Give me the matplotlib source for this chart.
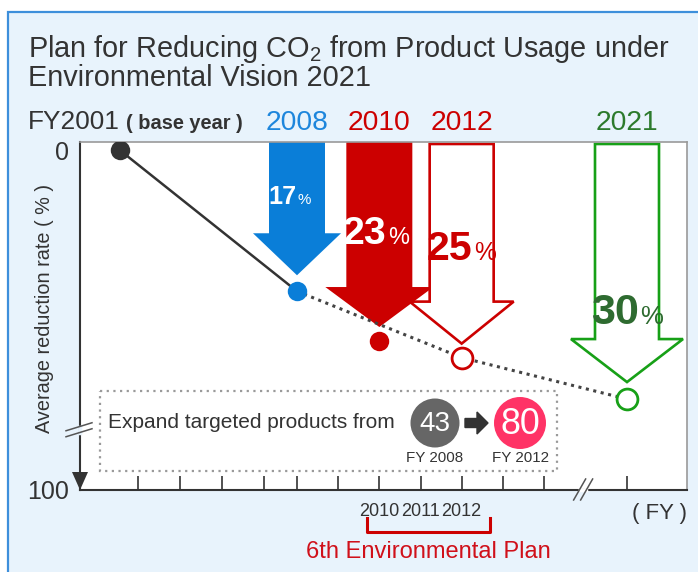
import numpy as np
import matplotlib
matplotlib.use('Agg')
import matplotlib.pyplot as plt
import matplotlib.transforms as mtransforms
from matplotlib.patches import Polygon, Rectangle, Circle, FancyArrow
from matplotlib.lines import Line2D
from matplotlib import font_manager

# ---------------- data ----------------
trend_years = [2001, 2008]          # achieved (solid line)
trend_rates = [0, 17]
plan_years = [2008, 2012, 2021]     # planned (dotted line)
plan_rates = [17, 25, 30]
point_years = [2001, 2008, 2010, 2012, 2021]
point_rates = [0, 17, 23, 25, 30]
arrow_years = [2008, 2010, 2012, 2021]
arrow_rates = [17, 23, 25, 30]
arrow_numbers = ['17', '23', '25', '30']
arrow_year_labels = ['2008', '2010', '2012', '2021']
tick_years = [2004, 2005, 2006, 2007, 2008, 2009, 2010, 2011, 2012, 2013, 2014, 2021]
labeled_ticks = ['2010', '2011', '2012']
y_ticks = [0, 100]
y_ticklabels = ['0', '100']
products_from = '43'
products_to = '80'
products_from_label = 'FY 2008'
products_to_label = 'FY 2012'
title_l1 = 'Plan for Reducing CO$_\\mathregular{2}$ from Product Usage under'
title_l2 = 'Environmental Vision 2021'

# ---------------- styles ----------------
BLUE = '#0A7ED8'
RED = '#CC0000'
GREEN = '#17A017'
DKGREEN = '#2E6B30'
TXT = '#333333'
BG = '#E8F3FC'

point_face = ['#333333', BLUE, RED, 'white', 'white']
point_edge = ['#333333', BLUE, RED, RED, GREEN]
arrow_face = [BLUE, RED, 'white', 'white']
arrow_edge = [BLUE, RED, RED, GREEN]
arrow_filled = [True, True, False, False]
arrow_shaft = [28, 33, 32, 32]     # half width px
arrow_head = [44, 54, 52, 56]      # half width px
arrow_hlen = [42, 40, 42, 43]      # px
arrow_gap = [16, 14, 14, 17]       # tip above point, px
year_label_colors = ['#1E86DC', RED, RED, '#2C7A2C']
num_colors = ['white', 'white', RED, DKGREEN]
num_dx = [-1, 7, 11, 12]
num_base = [204, 244, 260, 324]
num_width = [25, 39, 41, 43]

names = {f.name for f in font_manager.fontManager.ttflist}
REG = 'Liberation Sans' if 'Liberation Sans' in names else 'DejaVu Sans'
NARROW = 'Liberation Sans Narrow' if 'Liberation Sans Narrow' in names else REG
NUM_BOOST = 1.0 if NARROW != REG else 1.12
plt.rcParams['font.family'] = [REG, 'DejaVu Sans']
plt.rcParams['mathtext.fontset'] = 'custom'
plt.rcParams['mathtext.rm'] = REG

W, H = 698, 572
fig = plt.figure(figsize=(W / 100, H / 100), dpi=100, facecolor='white')
img = mtransforms.Affine2D().scale(1, -1).translate(0, H)
renderer = fig.canvas.get_renderer()

def fit(t, w, use_height=False):
    bb = t.get_window_extent(renderer)
    cur = bb.height if use_height else bb.width
    t.set_fontsize(t.get_fontsize() * w / cur)

# outer frame
fig.add_artist(Rectangle((8, 12), W, H, transform=img, facecolor=BG,
                         edgecolor='#3D8FDB', lw=1.6, zorder=0))

# broken (schematic) scales
XK_YR = [2000.0, 2001, 2004, 2007, 2008, 2014, 2021, 2022.4]
XK_PX = [80.0, 120, 138, 264, 297, 544, 627, 687]
YK_V = [-1.0, 33.7, 100]
YK_PX = [141.7, 429.7, 490]
fx = lambda v: np.interp(v, XK_YR, XK_PX)
ifx = lambda p: np.interp(p, XK_PX, XK_YR)
fy = lambda v: np.interp(v, YK_V, YK_PX)
ify = lambda p: np.interp(p, YK_PX, YK_V)

ax = fig.add_axes([80 / W, 1 - 490 / H, 607 / W, 348 / H])
ax.set_facecolor('white')
ax.set_xscale('function', functions=(fx, ifx))
ax.set_yscale('function', functions=(fy, ify))
ax.set_xlim(2000, 2022.4)
ax.set_ylim(100, -1)

for s in ['top', 'right']:
    ax.spines[s].set_color('#9A9A9A')
    ax.spines[s].set_linewidth(1.2)
for s in ['left', 'bottom']:
    ax.spines[s].set_color(TXT)
    ax.spines[s].set_linewidth(1.5)

ax.set_xticks(tick_years)
ax.set_xticklabels([str(y) if str(y) in labeled_ticks else '' for y in tick_years])
ax.tick_params(axis='x', direction='in', length=10, width=1.2, color=TXT,
               pad=9, labelsize=13, labelcolor=TXT)
ax.set_yticks(y_ticks)
ax.set_yticklabels(y_ticklabels)
ax.tick_params(axis='y', length=0, pad=8, labelsize=18, labelcolor=TXT)
ax.minorticks_off()
for lab in ax.get_xticklabels():
    lab.set_family(NARROW)
ax.get_yticklabels()[0].set_y(-1)

def to_img(x, y):
    d = ax.transData.transform((x, y))
    return d[0], H - d[1]

top_px = H - ax.transAxes.transform((0, 1))[1]

# block arrows
for i, (yr, rt) in enumerate(zip(arrow_years, arrow_rates)):
    px, py = to_img(yr, rt)
    tip = py - arrow_gap[i]
    sw, hw, hl = arrow_shaft[i], arrow_head[i], arrow_hlen[i]
    t0 = top_px if arrow_filled[i] else top_px + 2
    verts = [(px - sw, t0), (px + sw, t0), (px + sw, tip - hl), (px + hw, tip - hl),
             (px, tip), (px - hw, tip - hl), (px - sw, tip - hl)]
    ax.add_patch(Polygon(verts, closed=True, transform=img, facecolor=arrow_face[i],
                         edgecolor=arrow_edge[i], lw=0 if arrow_filled[i] else 1.9,
                         joinstyle='miter', zorder=2 + i * 0.1, clip_on=False))
    # percentage label
    n = ax.text(px + num_dx[i], num_base[i], arrow_numbers[i], transform=img,
                ha='right', va='baseline', fontsize=20, fontweight='bold',
                family=NARROW, color=num_colors[i], zorder=6)
    fit(n, num_width[i])
    n.set_fontsize(n.get_fontsize() * NUM_BOOST)
    ax.text(px + num_dx[i] + 1.5, num_base[i], '%', transform=img, ha='left',
            va='baseline', fontsize=n.get_fontsize() * 0.6, family=NARROW,
            color=num_colors[i], zorder=6)

# lines
ax.plot(trend_years, trend_rates, color=TXT, lw=1.8, zorder=3, solid_capstyle='round')
ax.plot(plan_years, plan_rates, color='#444444', lw=2.2, linestyle=(0, (1, 1.5)),
        zorder=3)
for i, (yr, rt) in enumerate(zip(point_years, point_rates)):
    filled = point_face[i] != 'white'
    ax.plot([yr], [rt], marker='o', linestyle='none',
            markersize=14 if filled else 15, markerfacecolor=point_face[i],
            markeredgecolor=point_edge[i], markeredgewidth=0 if filled else 2.0,
            zorder=4)

# year labels above the plot
yl = []
for i, yr in enumerate(arrow_years):
    px, _ = to_img(yr, arrow_rates[i])
    t = fig.text(px, 130, arrow_year_labels[i], transform=img, ha='center',
                 va='baseline', fontsize=20, color=year_label_colors[i])
    yl.append(t)
fit(yl[0], 63)
for t in yl[1:]:
    t.set_fontsize(yl[0].get_fontsize())

# titles
t1 = fig.text(28, 57, title_l1, transform=img, ha='left', va='baseline',
              fontsize=20, color=TXT)
fit(t1, 642)
fig.text(28, 86, title_l2, transform=img, ha='left', va='baseline',
         fontsize=t1.get_fontsize(), color=TXT)
fy01 = fig.text(28, 129, 'FY2001', transform=img, ha='left', va='baseline',
                fontsize=20, color=TXT)
fit(fy01, 92)
by = fig.text(126, 129, '( base year )', transform=img, ha='left', va='baseline',
              fontsize=13, color=TXT, family=NARROW, fontweight='bold')
fit(by, 116)

# y label
ylab = fig.text(45, 308, 'Average reduction rate ( % )', transform=img, rotation=90,
                ha='center', va='center', fontsize=14, color=TXT, family=NARROW)
fit(ylab, 250, use_height=True)

# axis end arrow
ax0 = H - ax.transAxes.transform((0, 0))[1]
axx = ax.transAxes.transform((0, 0))[0]
fig.add_artist(Polygon([(axx - 8, ax0 - 18), (axx + 8, ax0 - 18), (axx, ax0)],
                       closed=True, transform=img, facecolor=TXT, edgecolor='none',
                       zorder=5))

# breaks
_, byy = to_img(2000, 33.7)
fig.add_artist(Line2D([axx, axx], [byy - 3, byy + 3], transform=img, color=BG,
                      lw=2.5, zorder=5))
for off in (-3, 3):
    fig.add_artist(Line2D([axx - 14, axx + 12], [byy + 4 + off, byy - 4 + off],
                          transform=img, color='#555555', lw=1.1, zorder=6))
bxx, _ = to_img(2017.3, 100)
fig.add_artist(Line2D([bxx - 3, bxx + 3], [ax0, ax0], transform=img, color='white',
                      lw=2.5, zorder=5))
for off in (-3.5, 3.5):
    fig.add_artist(Line2D([bxx - 6 + off, bxx + 6 + off], [ax0 + 10, ax0 - 11],
                          transform=img, color='#555555', lw=1.1, zorder=6))

# ( FY )
fyt = fig.text(659, 513, '( FY )', transform=img, ha='center', va='center',
               fontsize=14, color=TXT, family=NARROW)
fit(fyt, 55)

# 6th plan bracket
bx0, _ = to_img(2009.7, 100)
bx1, _ = to_img(2012.7, 100)
fig.add_artist(Line2D([bx0, bx0, bx1, bx1], [518, 532, 532, 518], transform=img,
                      color=RED, lw=2.2, zorder=5))
fig.text((bx0 + bx1) / 2, 552, '6th Environmental Plan', transform=img, ha='center',
         va='center', fontsize=17, color='#D0101A')

# product expansion box
ax.add_patch(Rectangle((100, 391), 457, 80, transform=img, facecolor='none',
                       edgecolor='#9A9A9A', lw=1.6, linestyle=(0, (1, 2)),
                       zorder=2, clip_on=False))
ex = ax.text(108, 423, 'Expand targeted products from', transform=img, ha='left',
             va='center', fontsize=15, color=TXT, family=NARROW, zorder=6)
fit(ex, 287)
ax.add_patch(Circle((435, 423), 24.5, transform=img, facecolor='#666666',
                    edgecolor='none', zorder=5, clip_on=False))
ax.add_patch(Circle((520, 423), 26, transform=img, facecolor='#FF3366',
                    edgecolor='none', zorder=5, clip_on=False))
n43 = ax.text(435, 424, products_from, transform=img, ha='center', va='center',
              fontsize=20, color='white', family=NARROW, zorder=6)
fit(n43, 31)
n80 = ax.text(520, 424, products_to, transform=img, ha='center', va='center',
              fontsize=24, color='white', family=NARROW, zorder=6)
fit(n80, 40)
ax.add_patch(FancyArrow(465, 423, 23, 0, width=9, head_width=22, head_length=11,
                        length_includes_head=True, transform=img, color=TXT,
                        zorder=5, clip_on=False))
f1 = ax.text(435, 458, products_from_label, transform=img, ha='center', va='center',
             fontsize=11, color=TXT, family=NARROW, zorder=6)
fit(f1, 57)
f2 = ax.text(520, 458, products_to_label, transform=img, ha='center', va='center',
             fontsize=11, color=TXT, family=NARROW, zorder=6)
f2.set_fontsize(f1.get_fontsize())

fig.savefig('out.png', dpi=100, facecolor=fig.get_facecolor())
